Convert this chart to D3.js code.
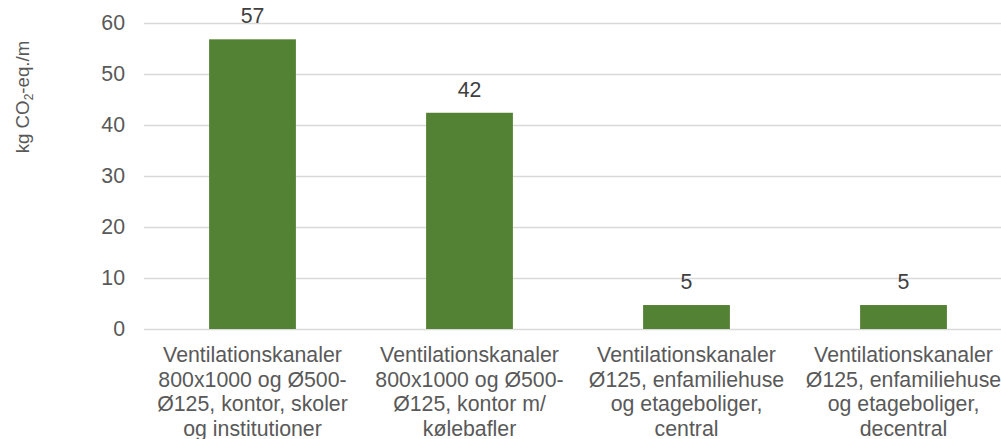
<!DOCTYPE html>
<html>
<head>
<meta charset="utf-8">
<script src="https://cdn.jsdelivr.net/npm/d3@7"></script>
<style>
  html, body { margin: 0; padding: 0; background: #ffffff; }
  svg { display: block; font-family: "Liberation Sans", Arial, sans-serif; }
</style>
</head>
<body>
<svg id="chart" width="1001" height="439"></svg>
<script>
// Embodied carbon per metre of ventilation duct
const categories = [
  "Ventilationskanaler\n800x1000 og Ø500-\nØ125, kontor, skoler\nog institutioner",
  "Ventilationskanaler\n800x1000 og Ø500-\nØ125, kontor m/\nkølebafler",
  "Ventilationskanaler\nØ125, enfamiliehuse\nog etageboliger,\ncentral",
  "Ventilationskanaler\nØ125, enfamiliehuse\nog etageboliger,\ndecentral"
];
const values = [56.8, 42.4, 4.7, 4.7];
const yTicks = [0, 10, 20, 30, 40, 50, 60];

const svg = d3.select("#chart");

const x = d3.scaleBand()
  .domain(categories)
  .range([144, 1012])
  .paddingInner(0.6)
  .paddingOuter(0.3);

const y = d3.scaleLinear()
  .domain([0, 60])
  .range([329, 23]);

// horizontal gridlines
svg.append("g")
  .selectAll("line")
  .data(yTicks)
  .join("line")
  .attr("x1", 144)
  .attr("x2", 1012)
  .attr("y1", d => Math.round(y(d)) + 0.5)
  .attr("y2", d => Math.round(y(d)) + 0.5)
  .attr("stroke", "#d9d9d9")
  .attr("stroke-width", 1.3);

// y axis labels
const yAxis = d3.axisLeft(y).tickValues(yTicks).tickSize(0).tickPadding(0);
svg.append("g")
  .attr("transform", "translate(125,0)")
  .call(yAxis)
  .call(g => g.select(".domain").remove())
  .call(g => g.selectAll("text")
    .attr("fill", "#595959")
    .attr("font-size", "21.3px")
    .attr("font-family", "'Liberation Sans', Arial, sans-serif"));

// y axis title with subscript
const title = svg.append("text")
  .attr("transform", "translate(29,97) rotate(-90)")
  .attr("text-anchor", "middle")
  .attr("fill", "#595959")
  .attr("font-size", "18.7px");
title.append("tspan").text("kg CO");
title.append("tspan").attr("font-size", "12px").attr("dy", 4).text("2");
title.append("tspan").attr("dy", -4).text("-eq./m");

// bars
svg.append("g")
  .selectAll("rect")
  .data(values)
  .join("rect")
  .attr("x", (d, i) => x(categories[i]))
  .attr("width", x.bandwidth())
  .attr("y", d => y(d))
  .attr("height", d => y(0) - y(d))
  .attr("fill", "#548235");

// value labels
const fmt = d3.format(".0f");
svg.append("g")
  .selectAll("text")
  .data(values)
  .join("text")
  .attr("x", (d, i) => x(categories[i]) + x.bandwidth() / 2)
  .attr("y", d => y(d) - 16)
  .attr("text-anchor", "middle")
  .attr("fill", "#404040")
  .attr("font-size", "21.3px")
  .text(d => fmt(d));

// category labels, wrapped on line breaks
const xAxis = d3.axisBottom(x).tickSize(0).tickPadding(0);
svg.append("g")
  .attr("transform", "translate(0,329)")
  .call(xAxis)
  .call(g => g.select(".domain").remove())
  .call(g => g.selectAll(".tick text").each(function(d) {
    const t = d3.select(this);
    t.text(null)
      .attr("y", 0)
      .attr("dy", null)
      .attr("fill", "#595959")
      .attr("font-size", "21.3px")
      .attr("font-family", "'Liberation Sans', Arial, sans-serif");
    d.split("\n").forEach((line, i) => {
      t.append("tspan")
        .attr("x", 0)
        .attr("y", 33 + i * 24.5)
        .text(line);
    });
  }));
</script>
</body>
</html>
